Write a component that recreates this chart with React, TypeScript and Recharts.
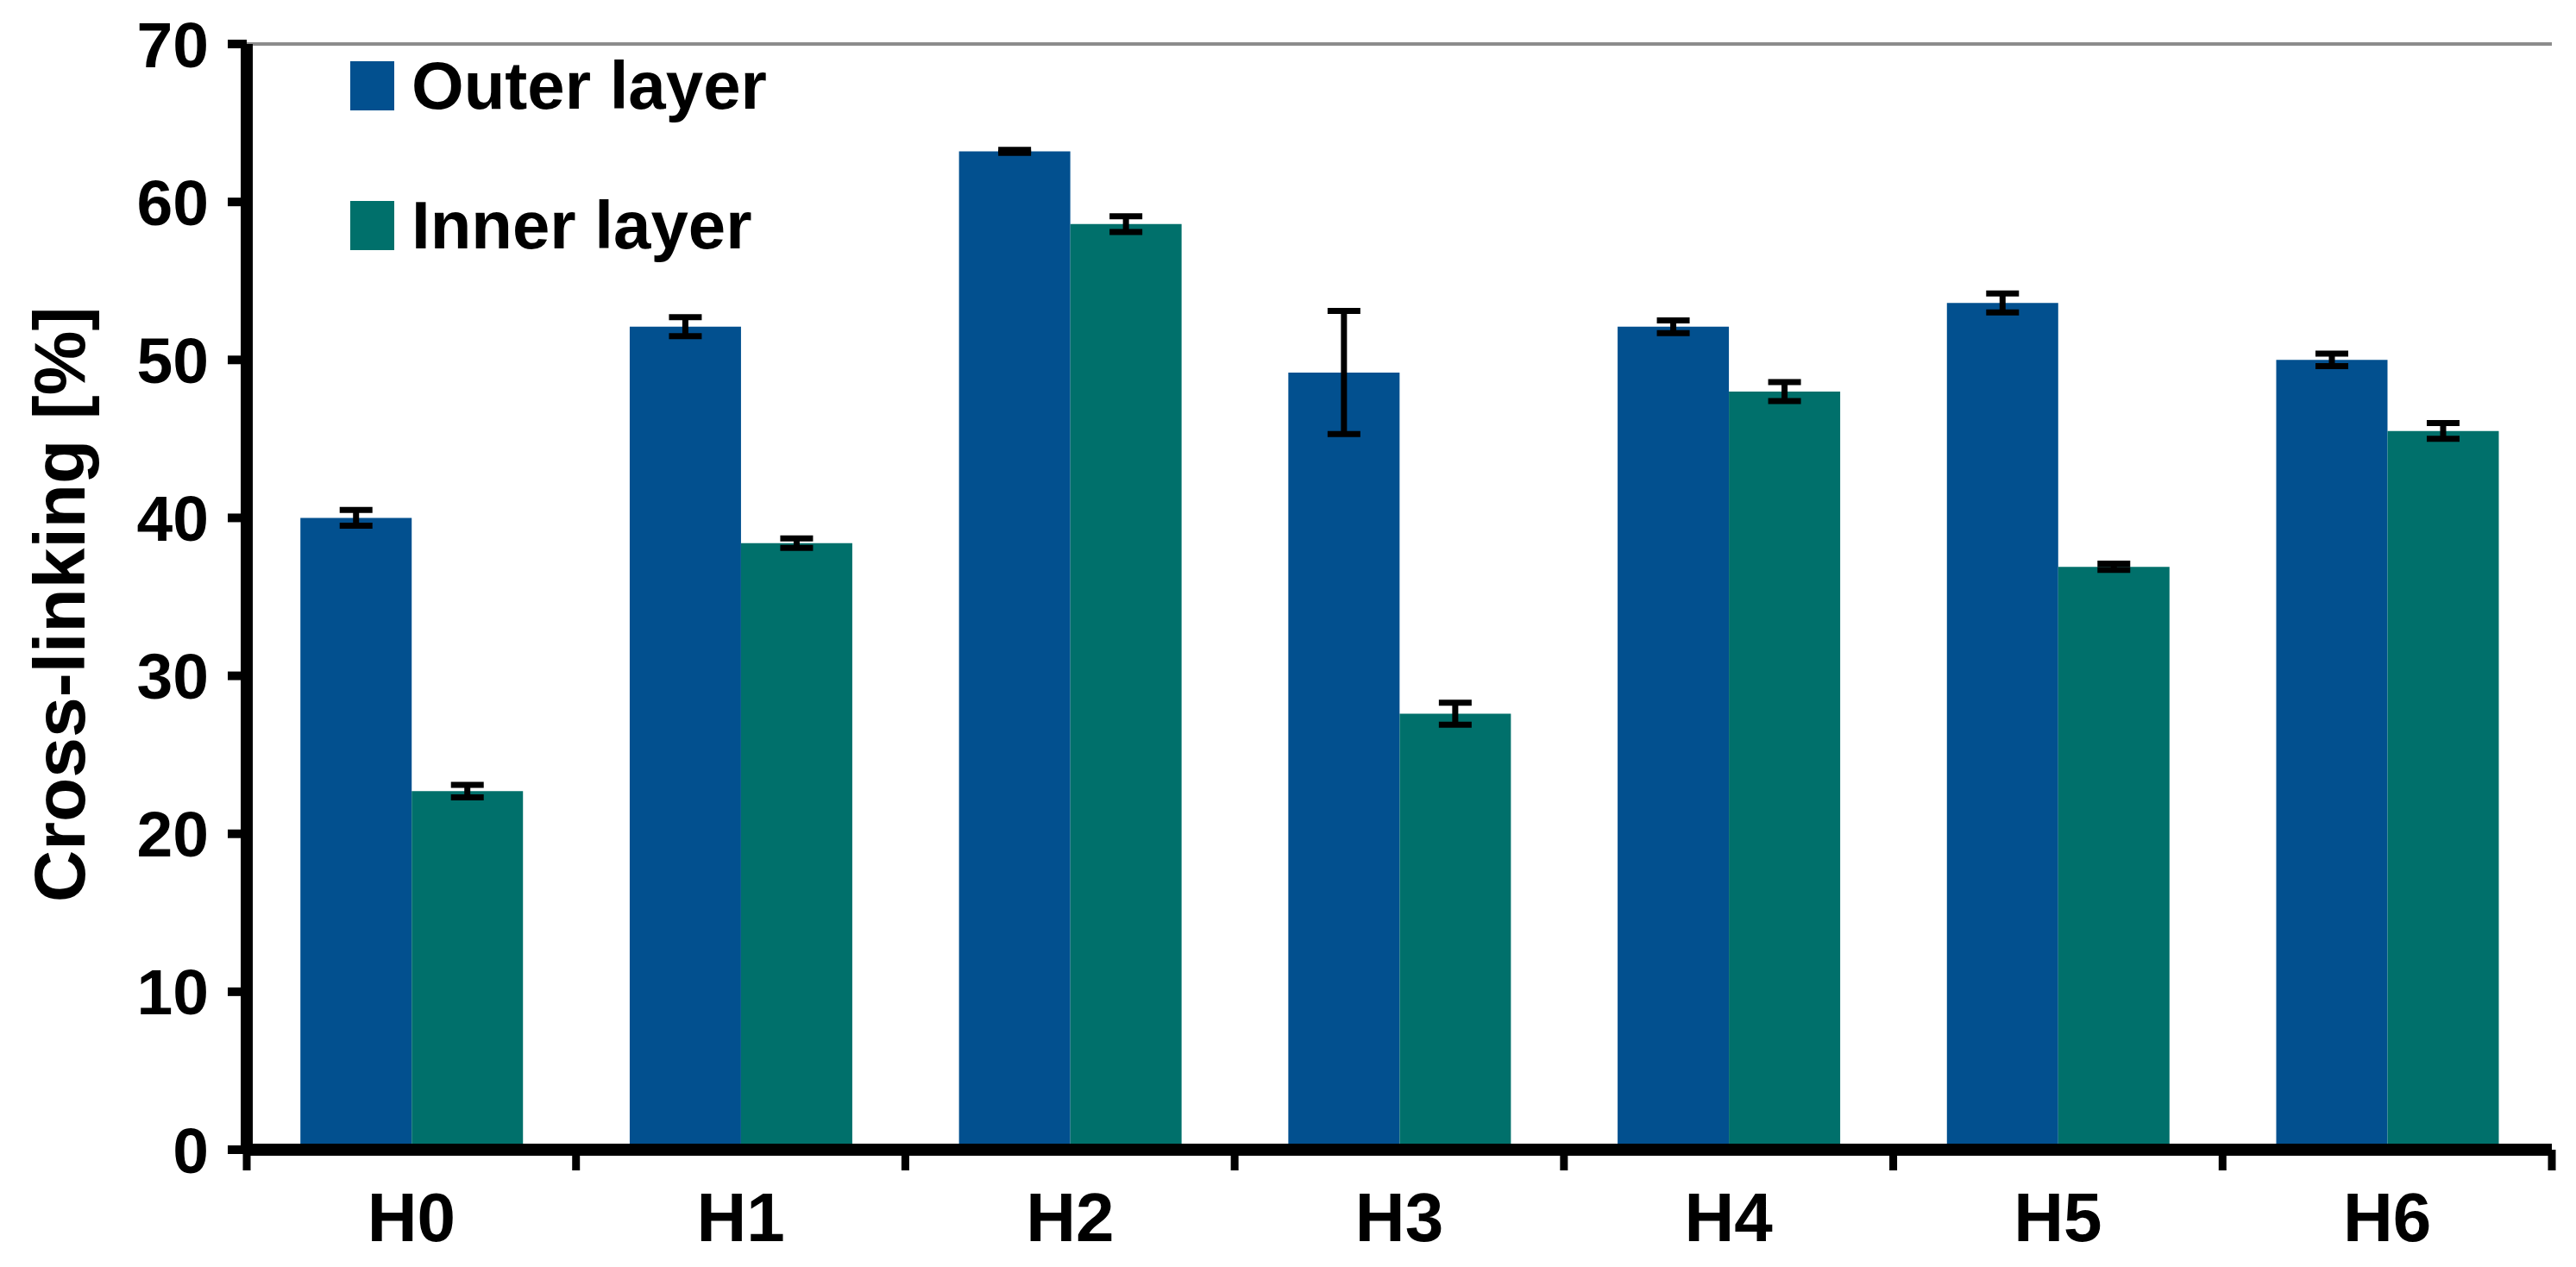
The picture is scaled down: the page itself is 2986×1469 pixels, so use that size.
import React from 'react';
import { BarChart, Bar, XAxis, YAxis, ErrorBar, ReferenceLine } from 'recharts';

const categories = ['H0', 'H1', 'H2', 'H3', 'H4', 'H5', 'H6'];
const outerValues = [40.0, 52.1, 63.2, 49.2, 52.1, 53.6, 50.0];
const outerErrors = [0.5, 0.6, 0.1, 3.9, 0.4, 0.6, 0.4];
const innerValues = [22.7, 38.4, 58.6, 27.6, 48.0, 36.9, 45.5];
const innerErrors = [0.4, 0.3, 0.5, 0.7, 0.6, 0.2, 0.5];
const yTicks = [0, 10, 20, 30, 40, 50, 60, 70];
const seriesNames = ['Outer layer', 'Inner layer'];

const data = categories.map((c, i) => ({
  name: c,
  outer: outerValues[i],
  outerErr: outerErrors[i],
  inner: innerValues[i],
  innerErr: innerErrors[i],
}));

const CHART_W = 2970;
const CHART_H = 1460;
const MARGIN = { top: 43, right: 20, bottom: 25, left: 0 };
const Y_W = 278;
const X_H = 110;
const BAND = (CHART_W - MARGIN.left - MARGIN.right - Y_W) / categories.length;
const FONT = '"Liberation Sans", Arial, sans-serif';
const BLUE = '#02508F';
const TEAL = '#00706B';
const seriesColors = [BLUE, TEAL];

const XTick = (props: any) => {
  const { x, y, payload, index } = props;
  const half = BAND / 2;
  return (
    <g>
      {index === 0 && (
        <line x1={x - half} y1={y} x2={x - half} y2={y + 24} stroke="#000" strokeWidth={9} />
      )}
      <line x1={x + half} y1={y} x2={x + half} y2={y + 24} stroke="#000" strokeWidth={9} />
      <text
        x={x}
        y={y + 77}
        dy="0.36em"
        textAnchor="middle"
        fontFamily={FONT}
        fontWeight="bold"
        fontSize={80}
        fill="#000"
      >
        {payload.value}
      </text>
    </g>
  );
};

const YLabel = () => {
  const cx = 60;
  const cy = 693;
  return (
    <text
      x={cx}
      y={cy}
      transform={`rotate(-90, ${cx}, ${cy})`}
      textAnchor="middle"
      dy="0.36em"
      fontFamily={FONT}
      fontWeight="bold"
      fontSize={84}
      fill="#000"
    >
      Cross-linking [%]
    </text>
  );
};

export default function App() {
  return (
    <div style={{ position: 'relative', width: CHART_W, height: CHART_H, background: '#fff' }}>
      <BarChart
        width={CHART_W}
        height={CHART_H}
        data={data}
        margin={MARGIN}
        barCategoryGap="16.3%"
        barGap={0}
      >
        <XAxis
          dataKey="name"
          height={X_H}
          axisLine={{ stroke: '#000', strokeWidth: 14 }}
          tickLine={false}
          tickSize={0}
          tickMargin={0}
          interval={0}
          tick={(p: any) => <XTick {...p} />}
        />
        <YAxis
          yAxisId="l"
          width={Y_W}
          domain={[0, 70]}
          ticks={yTicks}
          interval={0}
          axisLine={{ stroke: '#000', strokeWidth: 14 }}
          tickLine={{ stroke: '#000', strokeWidth: 10 }}
          tickSize={22}
          tickMargin={22}
          tick={{ fontFamily: FONT, fontWeight: 'bold', fontSize: 75, fill: '#000' }}
          label={<YLabel />}
        />
        <YAxis
          yAxisId="r"
          orientation="right"
          width={0}
          domain={[0, 70]}
          tick={false}
          tickLine={false}
          axisLine={{ stroke: '#8c8c8c', strokeWidth: 4 }}
        />
        <ReferenceLine yAxisId="l" y={70} stroke="#8c8c8c" strokeWidth={4} />
        <Bar yAxisId="l" dataKey="outer" name={seriesNames[0]} fill={BLUE} isAnimationActive={false}>
          <ErrorBar dataKey="outerErr" width={19} strokeWidth={7} stroke="#000" direction="y" />
        </Bar>
        <Bar yAxisId="l" dataKey="inner" name={seriesNames[1]} fill={TEAL} isAnimationActive={false}>
          <ErrorBar dataKey="innerErr" width={19} strokeWidth={7} stroke="#000" direction="y" />
        </Bar>
      </BarChart>
      <div style={{ position: 'absolute', left: 398, top: 10 }}>
        {seriesNames.map((n, i) => (
          <div key={n} style={{ display: 'flex', alignItems: 'center', height: 162 }}>
            <div style={{ width: 51, height: 57, background: seriesColors[i], marginRight: 20 }} />
            <span
              style={{ fontFamily: FONT, fontWeight: 'bold', fontSize: 78, color: '#000', lineHeight: 1 }}
            >
              {n}
            </span>
          </div>
        ))}
      </div>
    </div>
  );
}
